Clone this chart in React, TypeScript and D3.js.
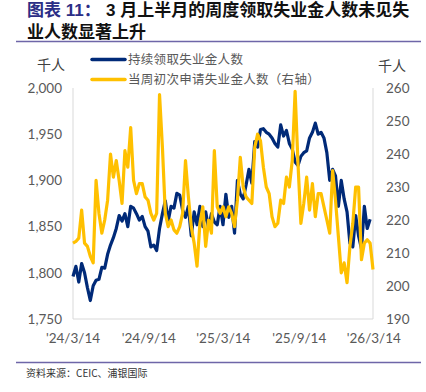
import React from "react";
import * as d3 from "d3";

const START_DATE = "2024-03-14";
const continuingClaims = [
  1796, 1807, 1790, 1810, 1800, 1784, 1770, 1786, 1792, 1793,
  1806, 1805, 1820, 1830, 1838, 1848, 1862, 1856, 1864, 1850,
  1872, 1870, 1864, 1857, 1861, 1850, 1845, 1828, 1830, 1824,
  1848, 1864, 1878, 1856, 1872, 1870, 1886, 1884, 1868, 1860,
  1872, 1840, 1866, 1852, 1872, 1850, 1866, 1848, 1864, 1855,
  1852, 1872, 1852, 1885, 1860, 1872, 1843, 1900, 1885, 1880,
  1895, 1912, 1897, 1942, 1936, 1955, 1956, 1952, 1950, 1946,
  1940, 1936, 1960, 1948, 1954, 1940, 1934, 1920, 1916, 1926,
  1930, 1932, 1946, 1952, 1962, 1950, 1952, 1946, 1930, 1900,
  1912, 1905, 1872, 1900, 1880, 1866, 1832, 1828, 1862, 1840,
  1826, 1872, 1848, 1858,
];
const initialClaims = [
  213, 213.5, 214.5, 223, 213, 212, 209, 207, 232, 222,
  216, 220, 226, 240, 233, 238, 232, 225, 241, 236,
  248, 232, 228, 231, 231, 227, 226, 222, 220, 222,
  258, 242, 222, 218, 220, 217, 216, 218, 222, 238,
  227, 218, 213, 206, 219, 224, 212, 220, 216, 241,
  224, 222, 224, 221, 224, 222, 218, 226, 239, 230,
  227, 226, 225, 242, 246, 244, 236, 230, 228, 221,
  218, 219, 226, 225, 233, 230, 238, 259, 237, 219,
  225, 233, 223, 231, 221, 228, 228, 224, 220, 216,
  235, 226, 215, 204, 207, 201, 212, 219, 230, 230,
  208, 213, 214, 213, 205,
];
const xTickDates = ["2024-03-14", "2024-09-14", "2025-03-14", "2025-09-14", "2026-03-14"];
const xTickLabels = ["'24/3/14", "'24/9/14", "'25/3/14", "'25/9/14", "'26/3/14"];
const leftTicks = [1750, 1800, 1850, 1900, 1950, 2000];
const rightTicks = [190, 200, 210, 220, 230, 240, 250, 260];
const seriesNames = ["持续领取失业金人数", "当周初次申请失业金人数（右轴）"];
const titleLabel = "图表 11：";
const titleLine1 = "3 月上半月的周度领取失业金人数未见失";
const titleLine2 = "业人数显著上升";
const sourceText = "资料来源：CEIC、浦银国际";

const W = 426;
const H = 392;
const M = { left: 73, right: 373, top: 88, bottom: 319 };
const BLUE = "#002A78";
const YELLOW = "#FFC000";
const FONT = "Lato, 'Noto Sans CJK SC', sans-serif";
const CJK = "'Noto Sans CJK SC', sans-serif";
const TITLE_FONT = "'Liberation Sans', 'Noto Sans CJK SC', sans-serif";

export default function App() {
  const parse = d3.utcParse("%Y-%m-%d");
  const start = parse(START_DATE) as Date;
  const dates = initialClaims.map((_, i) => d3.utcDay.offset(start, i * 7));
  const x = d3
    .scaleUtc()
    .domain([start, dates[dates.length - 1]])
    .range([M.left, M.right]);
  const yL = d3.scaleLinear().domain([1750, 2000]).range([M.bottom, M.top]);
  const yR = d3.scaleLinear().domain([190, 260]).range([M.bottom, M.top]);

  const lineL = d3
    .line<number>()
    .x((_, i) => x(dates[i]))
    .y((d) => yL(d))
    .curve(d3.curveLinear);
  const lineR = d3
    .line<number>()
    .x((_, i) => x(dates[i]))
    .y((d) => yR(d))
    .curve(d3.curveLinear);

  return (
    <svg width={W} height={H} style={{ position: "absolute", left: 0, top: 0, background: "#fff" }}>
      {/* title */}
      <text x={27} y={16} fontFamily={TITLE_FONT} fontWeight={700} fontSize={17} fill="#2B2E86">
        {titleLabel}
      </text>
      <text x={106} y={16} fontFamily={TITLE_FONT} fontWeight={700} fontSize={17} fill="#111">
        {titleLine1}
      </text>
      <text x={27} y={38} fontFamily={TITLE_FONT} fontWeight={700} fontSize={17} fill="#111">
        {titleLine2}
      </text>
      <line x1={16} x2={421} y1={41.5} y2={41.5} stroke="#6E66A8" strokeWidth={1.3} />

      {/* units */}
      <text x={51} y={70} textAnchor="middle" fontFamily={CJK} fontSize={14} fill="#404040">千人</text>
      <text x={392} y={71} textAnchor="middle" fontFamily={CJK} fontSize={14} fill="#404040">千人</text>

      {/* legend */}
      <line x1={92} x2={125} y1={59.5} y2={59.5} stroke={BLUE} strokeWidth={3.5} strokeLinecap="round" />
      <text x={128} y={64} fontFamily={CJK} fontSize={12.5} fill="#595959" letterSpacing={0.3}>{seriesNames[0]}</text>
      <line x1={92} x2={125} y1={79.5} y2={79.5} stroke={YELLOW} strokeWidth={3.5} strokeLinecap="round" />
      <text x={128} y={84} fontFamily={CJK} fontSize={12.5} fill="#595959" letterSpacing={0.3}>{seriesNames[1]}</text>

      {/* axes lines */}
      <line x1={M.left} x2={M.left} y1={M.top} y2={M.bottom} stroke="#D9D9D9" />
      <line x1={M.right} x2={M.right} y1={M.top} y2={M.bottom} stroke="#D9D9D9" />
      <line x1={M.left} x2={M.right} y1={M.bottom} y2={M.bottom} stroke="#D9D9D9" />

      {leftTicks.map((t) => (
        <text key={"l" + t} x={62} y={yL(t)} dy="0.35em" textAnchor="end" fontFamily={FONT} fontSize={13.5} fill="#595959">
          {d3.format(",")(t)}
        </text>
      ))}
      {rightTicks.map((t) => (
        <text key={"r" + t} x={386} y={yR(t)} dy="0.35em" textAnchor="start" fontFamily={FONT} fontSize={13.5} fill="#595959">
          {t}
        </text>
      ))}
      {xTickDates.map((d, i) => (
        <text key={d} x={x(parse(d) as Date)} y={338} dy="0.35em" textAnchor="middle" fontFamily={FONT} fontSize={13.5} fill="#595959">
          {xTickLabels[i]}
        </text>
      ))}

      {/* series */}
      <path d={lineL(continuingClaims) || ""} fill="none" stroke={BLUE} strokeWidth={3.2} strokeLinejoin="round" />
      <path d={lineR(initialClaims) || ""} fill="none" stroke={YELLOW} strokeWidth={3.2} strokeLinejoin="round" />

      {/* footer */}
      <line x1={16} x2={421} y1={362.5} y2={362.5} stroke="#6E66A8" strokeWidth={1.3} />
      <text x={26} y={377} fontFamily={CJK} fontSize={10} fill="#333">{sourceText}</text>
    </svg>
  );
}
